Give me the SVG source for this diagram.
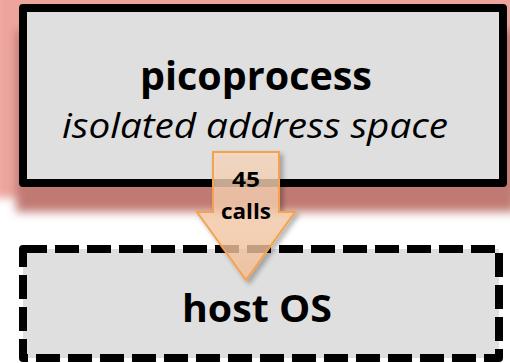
<svg xmlns="http://www.w3.org/2000/svg" width="510" height="363" viewBox="0 0 510 363">
  <defs>
    <filter id="glow" x="-20%" y="-30%" width="140%" height="160%">
      <feGaussianBlur stdDeviation="4"/>
    </filter>
    <filter id="drop" x="-20%" y="-30%" width="140%" height="160%">
      <feGaussianBlur stdDeviation="5"/>
    </filter>
    <filter id="arrowShadow" x="-30%" y="-20%" width="160%" height="140%">
      <feGaussianBlur in="SourceAlpha" stdDeviation="2.5"/>
      <feOffset dx="3" dy="3" result="b"/>
      <feComponentTransfer in="b" result="s">
        <feFuncA type="linear" slope="0.35"/>
      </feComponentTransfer>
      <feMerge>
        <feMergeNode in="s"/>
        <feMergeNode in="SourceGraphic"/>
      </feMerge>
    </filter>
    <linearGradient id="arrowFill" x1="0" y1="0" x2="0" y2="1">
      <stop offset="0" stop-color="#fddcc2"/>
      <stop offset="1" stop-color="#f9c49a"/>
    </linearGradient>
  </defs>
  <style>
    .box { fill: #dfdfdf; stroke: #000; stroke-width: 8; stroke-linejoin: round; }
    .dashed { stroke-dasharray: 24 8; stroke-linejoin: round; }
    .title { font-family: "Open Sans", "Noto Sans", "DejaVu Sans", sans-serif; font-weight: bold; fill: #000; text-anchor: middle; }
    .sub { font-family: "Open Sans", "Noto Sans", "DejaVu Sans", sans-serif; font-style: italic; fill: #000; text-anchor: middle; }
    .label { font-family: "Open Sans", "Noto Sans", "DejaVu Sans", sans-serif; font-weight: bold; fill: #000; text-anchor: middle; font-size: 22px; }
  </style>

  <rect x="0" y="0" width="510" height="363" fill="#ffffff"/>

  <!-- picoprocess: red glow and shadow under the box -->
  <g id="picoprocess">
    <rect x="-6" y="-20" width="530" height="218" fill="#eda49d" filter="url(#glow)"/>
    <rect x="16" y="30" width="500" height="182" fill="#c07a73" filter="url(#drop)"/>
    <rect class="box" x="23" y="8" width="480" height="175"/>
    <text class="title" x="256" y="90" font-size="40" textLength="232" lengthAdjust="spacingAndGlyphs">picoprocess</text>
    <text class="sub" x="255" y="138" font-size="35" textLength="386" lengthAdjust="spacingAndGlyphs">isolated address space</text>
  </g>

  <!-- host OS -->
  <g id="host-os">
    <rect class="box dashed" x="23" y="249" width="476" height="109"/>
    <text class="title" x="257" y="322" font-size="38" textLength="150" lengthAdjust="spacingAndGlyphs">host OS</text>
  </g>

  <!-- connectors -->
  <g id="connectors">
    <g id="calls-arrow" filter="url(#arrowShadow)">
      <polygon points="213,152 279,152 279,212 295,212 246,280 197,212 213,212"
               fill="url(#arrowFill)" fill-opacity="0.75" stroke="#f4a24f" stroke-width="2" stroke-linejoin="miter"/>
    </g>
    <text class="label" x="246" y="187" textLength="28" lengthAdjust="spacingAndGlyphs">45</text>
    <text class="label" x="246" y="219" textLength="50" lengthAdjust="spacingAndGlyphs">calls</text>
  </g>
</svg>
